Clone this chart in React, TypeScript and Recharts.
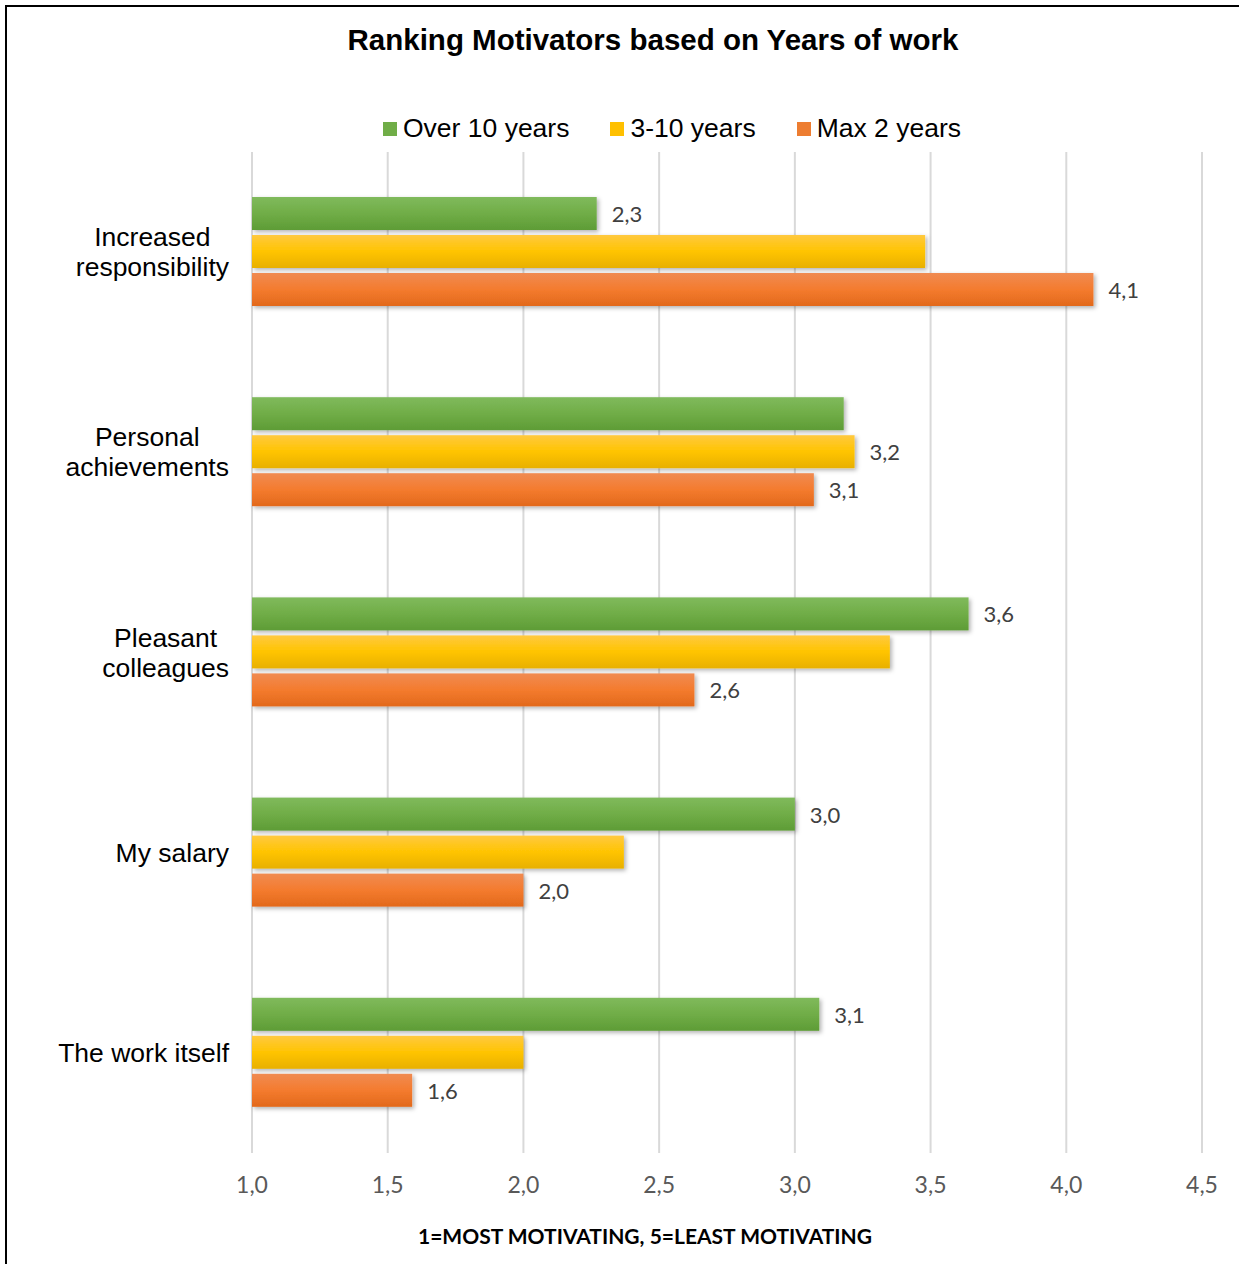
import { BarChart, Bar, XAxis, YAxis, CartesianGrid, LabelList, Label } from 'recharts'

const categories = ['Increased responsibility', 'Personal achievements', 'Pleasant colleagues', 'My salary', 'The work itself']
const categoryLines = [['Increased', 'responsibility'], ['Personal', 'achievements'], ['Pleasant', 'colleagues'], ['My salary'], ['The work itself']]
const overTenYears = [2.27, 3.18, 3.64, 3.0, 3.09]
const threeToTenYears = [3.48, 3.22, 3.35, 2.37, 2.0]
const maxTwoYears = [4.1, 3.07, 2.63, 2.0, 1.59]
const overTenShown = [true, false, true, true, true]
const threeToTenShown = [false, true, false, false, false]
const maxTwoShown = [true, true, true, true, true]
const xTicks = [1, 1.5, 2, 2.5, 3, 3.5, 4, 4.5]

const data = categories.map((name, i) => ({
  name,
  over10: overTenYears[i],
  mid: threeToTenYears[i],
  max2: maxTwoYears[i],
}))

const series = [
  { key: 'over10', label: 'Over 10 years', grad: 'gGreen', swatch: '#70AD47', shown: overTenShown },
  { key: 'mid', label: '3-10 years', grad: 'gYellow', swatch: '#FFC000', shown: threeToTenShown },
  { key: 'max2', label: 'Max 2 years', grad: 'gOrange', swatch: '#ED7D31', shown: maxTwoShown },
]

const fmt = (v: number) => v.toFixed(1).replace('.', ',')

const CAT_FONT = '26.5px "Liberation Sans", Arial, sans-serif'
let ctx: CanvasRenderingContext2D | null = null
function measure(s: string) {
  if (!ctx) ctx = document.createElement('canvas').getContext('2d')
  if (!ctx) return s.length * 13
  ctx.font = CAT_FONT
  return ctx.measureText(s).width
}

function CategoryTick({ y, payload }: any) {
  const lines = categoryLines[payload.index] ?? [payload.value]
  const maxW = Math.max(...lines.map(measure))
  const cx = 228 - maxW / 2
  const lh = 30
  const startY = y - ((lines.length - 1) * lh) / 2
  return (
    <text x={cx} y={startY} textAnchor="middle" dominantBaseline="central" fill="#000" style={{ font: CAT_FONT }}>
      {lines.map((l, i) => (
        <tspan key={i} x={cx} y={startY + i * lh} dominantBaseline="central">{l}</tspan>
      ))}
    </text>
  )
}

function makeValueLabel(shown: boolean[]) {
  return (props: any) => {
    const { x, y, width, height, value, index } = props
    if (!shown[index]) return null
    return (
      <text x={x + width + 15} y={y + height / 2} dominantBaseline="central" fill="#404040" fontSize={22} fontFamily="Lato, sans-serif">
        {fmt(value)}
      </text>
    )
  }
}

function BarShape(gradId: string) {
  return (props: any) => {
    const { x, y, width, height } = props
    return <rect x={x} y={y} width={width} height={height} fill={`url(#${gradId})`} filter="url(#barShadow)" />
  }
}

export default function App() {
  return (
    <div style={{ position: 'absolute', left: 0, top: 0, width: 1239, height: 1264, overflow: 'hidden', background: '#fff' }}>
      <div style={{ position: 'absolute', left: 5, top: 5, width: 1300, height: 1300, border: '2px solid #000' }} />
      <div
        style={{
          position: 'absolute', left: 0, top: 23, width: 1306, textAlign: 'center',
          font: 'bold 29.5px "Liberation Sans", Arial, sans-serif', color: '#000',
        }}
      >
        Ranking Motivators based on Years of work
      </div>
      <div style={{ position: 'absolute', left: 383, top: 113, display: 'flex', alignItems: 'center', font: '26.5px "Liberation Sans", Arial, sans-serif', color: '#000' }}>
        {series.map((s) => (
          <div key={s.key} style={{ display: 'flex', alignItems: 'center', marginRight: 41 }}>
            <span style={{ width: 14, height: 14, background: s.swatch, display: 'inline-block', marginRight: 6 }} />
            <span>{s.label}</span>
          </div>
        ))}
      </div>
      <div style={{ position: 'absolute', left: 1, top: 1 }}>
        <BarChart
          width={1238}
          height={1263}
          data={data}
          layout="vertical"
          margin={{ top: 151, right: 37, bottom: 51, left: 0 }}
          barCategoryGap={45}
          barGap={5}
        >
          <defs>
            <linearGradient id="gGreen" x1="0" y1="0" x2="0" y2="1">
              <stop offset="0%" stopColor="#80BA5C" />
              <stop offset="50%" stopColor="#70AD47" />
              <stop offset="100%" stopColor="#5E9C36" />
            </linearGradient>
            <linearGradient id="gYellow" x1="0" y1="0" x2="0" y2="1">
              <stop offset="0%" stopColor="#FFC940" />
              <stop offset="50%" stopColor="#FFC400" />
              <stop offset="100%" stopColor="#E8B000" />
            </linearGradient>
            <linearGradient id="gOrange" x1="0" y1="0" x2="0" y2="1">
              <stop offset="0%" stopColor="#F08B52" />
              <stop offset="50%" stopColor="#F47B2E" />
              <stop offset="100%" stopColor="#E2691C" />
            </linearGradient>
            <filter id="barShadow" x="-5%" y="-30%" width="110%" height="160%">
              <feDropShadow dx="2" dy="2" stdDeviation="2" floodColor="#000" floodOpacity="0.3" />
            </filter>
          </defs>
          <CartesianGrid horizontal={false} stroke="#D9D9D9" strokeWidth={2} />
          <XAxis
            type="number"
            domain={[1, 4.5]}
            ticks={xTicks}
            axisLine={false}
            tickLine={false}
            tickMargin={18}
            height={60}
            tickFormatter={fmt}
            tick={{ fill: '#595959', fontSize: 23, fontFamily: 'Lato, sans-serif' }}
          >
            <Label
              value="1=MOST MOTIVATING, 5=LEAST MOTIVATING"
              position="bottom"
              offset={16}
              dx={-82}
              fill="#000"
              fontSize={21}
              fontWeight="bold"
              fontFamily="Lato, sans-serif"
            />
          </XAxis>
          <YAxis type="category" dataKey="name" width={251} axisLine={false} tickLine={false} tick={<CategoryTick />} />
          {series.map((s) => (
            <Bar key={s.key} dataKey={s.key} isAnimationActive={false} shape={BarShape(s.grad)}>
              <LabelList dataKey={s.key} content={makeValueLabel(s.shown)} />
            </Bar>
          ))}
        </BarChart>
      </div>
    </div>
  )
}
